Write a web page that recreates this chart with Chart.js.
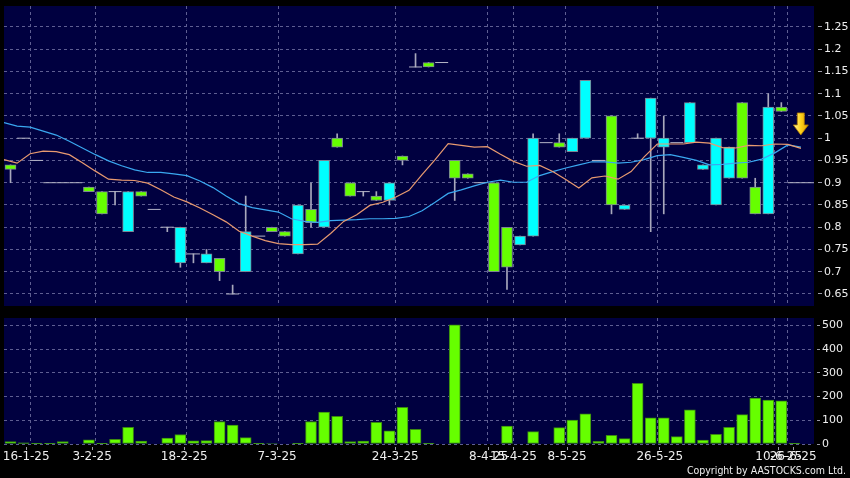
<!DOCTYPE html>
<html><head><meta charset="utf-8">
<script src="https://cdn.jsdelivr.net/npm/chart.js@4/dist/chart.umd.min.js"></script>
<style>
html,body{margin:0;padding:0;background:#000;}
#wrap{position:relative;width:850px;height:478px;background:#000;overflow:hidden;}
#c1{position:absolute;left:0;top:0;}
#c2{position:absolute;left:0;top:312px;}
#copy{position:absolute;right:4px;top:464px;font:10.5px 'DejaVu Sans Condensed','DejaVu Sans',sans-serif;color:#eeeeee;white-space:nowrap;}
</style></head><body>
<div id="wrap">
<canvas id="c1" width="850" height="312"></canvas>
<canvas id="c2" width="850" height="166"></canvas>
<div id="copy">Copyright by AASTOCKS.com Ltd.</div>
</div>
<script>
// ---- data (one candle per trading session shown) ----
const opens  = [0.94,1.00,0.95,0.90,0.90,0.90,0.89,0.88,0.88,0.79,0.88,0.84,0.80,0.72,0.74,0.72,0.73,0.65,0.70,0.78,0.80,0.79,0.74,0.84,0.80,1.00,0.90,0.88,0.87,0.86,0.96,1.16,1.17,1.17,0.95,0.92,0.90,0.90,0.80,0.76,0.78,0.99,0.99,0.97,1.00,0.95,1.05,0.84,1.00,1.00,0.98,0.99,0.99,0.93,0.85,0.91,1.08,0.89,0.83,1.07,0.90,0.90];
const highs  = [0.94,1.00,0.95,0.90,0.90,0.90,0.89,0.88,0.88,0.88,0.88,0.84,0.80,0.80,0.74,0.75,0.73,0.67,0.87,0.78,0.80,0.79,0.85,0.90,0.95,1.01,0.90,0.88,0.88,0.90,0.96,1.19,1.17,1.17,0.95,0.92,0.90,0.90,0.80,0.78,1.01,0.99,1.01,1.00,1.13,0.95,1.05,0.85,1.01,1.09,1.05,0.99,1.08,0.94,1.00,0.98,1.08,0.91,1.10,1.08,0.90,0.90];
const lows   = [0.90,1.00,0.95,0.90,0.90,0.90,0.88,0.83,0.85,0.79,0.87,0.84,0.79,0.71,0.72,0.72,0.68,0.65,0.70,0.78,0.79,0.78,0.74,0.80,0.80,0.98,0.87,0.87,0.86,0.85,0.94,1.16,1.16,1.17,0.86,0.91,0.90,0.70,0.66,0.76,0.78,0.99,0.98,0.97,1.00,0.95,0.83,0.84,1.00,0.79,0.83,0.99,0.99,0.93,0.85,0.91,0.91,0.83,0.83,1.06,0.90,0.90];
const closes = [0.93,1.00,0.95,0.90,0.90,0.90,0.88,0.83,0.88,0.88,0.87,0.84,0.80,0.80,0.74,0.74,0.70,0.65,0.79,0.78,0.79,0.78,0.85,0.81,0.95,0.98,0.87,0.88,0.86,0.90,0.95,1.16,1.16,1.17,0.91,0.91,0.90,0.70,0.71,0.78,1.00,0.99,0.98,1.00,1.13,0.95,0.85,0.85,1.00,1.09,1.00,0.99,1.08,0.94,1.00,0.98,0.91,0.83,1.07,1.06,0.90,0.90];
const volumes = [10,5,1,1,10,0,18,3,20,70,12,0,25,40,13,14,95,80,27,1,2,0,1,95,135,117,10,12,91,56,155,62,3,0,503,0,0,0,76,0,52,0,69,101,127,11,37,23,256,111,111,31,144,17,41,70,124,194,185,182,3,0];
// moving averages, one value per candle boundary
const maShort = [0.952,0.944,0.965,0.971,0.970,0.963,0.945,0.926,0.908,0.906,0.905,0.899,0.884,0.868,0.857,0.843,0.828,0.812,0.791,0.780,0.770,0.763,0.761,0.761,0.762,0.786,0.813,0.828,0.849,0.856,0.868,0.883,0.918,0.952,0.988,0.984,0.980,0.981,0.964,0.948,0.937,0.939,0.925,0.907,0.888,0.911,0.915,0.908,0.925,0.958,0.987,0.987,0.987,0.991,0.989,0.979,0.978,0.984,0.983,0.987,0.986,0.977];
const maLong  = [1.035,1.027,1.025,1.016,1.007,0.993,0.978,0.963,0.949,0.938,0.929,0.923,0.923,0.920,0.916,0.904,0.889,0.870,0.853,0.844,0.839,0.834,0.819,0.813,0.811,0.815,0.816,0.817,0.819,0.819,0.820,0.824,0.837,0.856,0.876,0.884,0.893,0.901,0.906,0.901,0.901,0.916,0.925,0.933,0.940,0.947,0.947,0.944,0.946,0.952,0.961,0.963,0.957,0.950,0.940,0.941,0.944,0.946,0.953,0.967,0.985,0.980];
const tickPos    = [1.2,6.25,13.3,20.4,29.45,36.6,38.5,42.6,49.7,58.8,59.9];
const tickLabels = ['16-1-25','3-2-25','18-2-25','7-3-25','24-3-25','8-4-25','15-4-25','8-5-25','26-5-25','10-6-25','26-6-25'];
const gridPos    = [1.5,6.5,13.5,20.5,29.5,36.5,38.5,42.5,49.5,58.5,59.5];
const priceTicks = [0.65,0.7,0.75,0.8,0.85,0.9,0.95,1.0,1.05,1.1,1.15,1.2,1.25];
const volTicks   = [0,100,200,300,400,500];
const arrowAt = {x:60.49, y:1.032};

// ---- styles ----
const UP = '#00ffff', DOWN = '#66ff00';
const NAVY = '#000040', GRID = '#5e5e92', TXT = '#eeeeee', TICKC = '#9a9aa8';
const FONT = "'DejaVu Sans', sans-serif";

const bodyData = [], bodyColors = [], flatData = [], wickData = [];
opens.forEach((o, i) => {
  const c = closes[i];
  if (o === c) flatData.push({x:i, y:o});
  else { bodyData.push({x:i, y:[Math.min(o,c), Math.max(o,c)]}); bodyColors.push(c > o ? UP : DOWN); }
  if (highs[i] > lows[i]) wickData.push({x:i, y:[lows[i], highs[i]]});
});
const volData = volumes.map((v,i) => ({x:i, y:v}));
const maShortPts = maShort.map((v,k) => ({x:k-0.5, y:v}));
const maLongPts  = maLong.map((v,k) => ({x:k-0.5, y:v}));

const fixedTicks = vals => axis => { axis.ticks = vals.map(v => ({value:v})); };
const noPad = (w, h) => a => {
  if (w !== undefined) a.width = w;
  if (h !== undefined) a.height = h;
  a.paddingTop = 0; a.paddingBottom = 0; a.paddingLeft = 0; a.paddingRight = 0;
};
const bgPlugin = { id:'bg', beforeDraw(chart){ const {ctx, chartArea:a} = chart; ctx.save(); ctx.fillStyle = NAVY; ctx.fillRect(a.left, a.top, a.right-a.left, a.bottom-a.top); ctx.restore(); } };
const arrowPlugin = { id:'arrow', afterDatasetsDraw(chart){
  const {ctx, scales} = chart;
  const cx = scales.x.getPixelForValue(arrowAt.x), cy = scales.y.getPixelForValue(arrowAt.y);
  ctx.save();
  const g = ctx.createLinearGradient(cx-7, 0, cx+7, 0);
  g.addColorStop(0,'#fff39a'); g.addColorStop(0.5,'#ffd21a'); g.addColorStop(1,'#e0a000');
  ctx.beginPath();
  ctx.moveTo(cx-3.5, cy-11); ctx.lineTo(cx+3.5, cy-11); ctx.lineTo(cx+3.5, cy+1);
  ctx.lineTo(cx+7.5, cy+1); ctx.lineTo(cx, cy+11); ctx.lineTo(cx-7.5, cy+1); ctx.lineTo(cx-3.5, cy+1);
  ctx.closePath(); ctx.fillStyle = g; ctx.fill();
  ctx.strokeStyle = '#b07800'; ctx.lineWidth = 0.8; ctx.stroke();
  ctx.restore();
}};

const xBase = {type:'linear', min:-0.5, max:61.5, offset:false};

new Chart(document.getElementById('c1'), {
  type:'bar',
  data:{datasets:[
    {type:'line', data:maShortPts, borderColor:'#e89a70', borderWidth:1.2, pointRadius:0, order:0},
    {type:'line', data:maLongPts, borderColor:'#3aa8f0', borderWidth:1.2, pointRadius:0, order:0},
    {type:'bar', data:bodyData, backgroundColor:bodyColors, borderColor:'#7c8494', borderWidth:1, borderSkipped:false, barThickness:11, grouped:false, order:1},
    {type:'line', data:flatData, showLine:false, pointStyle:'line', pointRadius:6.5, pointBorderColor:'#b4b4c6', pointBorderWidth:1, order:2},
    {type:'bar', data:wickData, backgroundColor:'#a8a8bc', borderWidth:0, barThickness:1, grouped:false, order:3}
  ]},
  options:{
    responsive:false, animation:false, devicePixelRatio:1,
    layout:{autoPadding:false, padding:{left:4, top:6, right:0, bottom:6}},
    plugins:{legend:{display:false}, tooltip:{enabled:false}},
    scales:{
      x:{...xBase, afterBuildTicks:fixedTicks(gridPos), ticks:{display:false}, grid:{color:GRID, drawTicks:false, offset:false}, border:{display:false, dash:[3,3]}, afterFit:noPad(undefined, 0)},
      y:{position:'right', min:0.623, max:1.297, afterBuildTicks:fixedTicks(priceTicks),
         ticks:{color:TXT, font:{family:FONT, size:11}, padding:2, callback:v=>String(+Number(v).toFixed(2))},
         grid:{color:GRID, tickLength:8, tickColor:TICKC, tickBorderDash:[0,4,4,0]}, border:{display:false, dash:[3,3]}, afterFit:noPad(36)}
    }
  },
  plugins:[bgPlugin, arrowPlugin]
});

new Chart(document.getElementById('c2'), {
  type:'bar',
  data:{datasets:[
    {type:'bar', data:volData, backgroundColor:DOWN, borderColor:'#3b8a10', borderWidth:1, borderSkipped:false, barThickness:11, grouped:false, xAxisID:'x'}
  ]},
  options:{
    responsive:false, animation:false, devicePixelRatio:1,
    layout:{autoPadding:false, padding:{left:4, top:6, right:0, bottom:10}},
    plugins:{legend:{display:false}, tooltip:{enabled:false}},
    scales:{
      xg:{...xBase, position:'bottom', weight:0, afterBuildTicks:fixedTicks(gridPos), ticks:{display:false}, grid:{color:GRID, drawTicks:false, offset:false}, border:{display:false, dash:[3,3]}, afterFit:noPad(undefined, 0)},
      x:{...xBase, position:'bottom', weight:1, afterBuildTicks:fixedTicks(tickPos),
         ticks:{autoSkip:false, maxRotation:0, minRotation:0, color:TXT, font:{family:FONT, size:12}, padding:0, callback:(v,i)=>tickLabels[i]},
         grid:{drawOnChartArea:false, tickLength:6, tickColor:TICKC, tickBorderDash:[0,3,3,0], offset:false}, border:{display:false}, afterFit:noPad(undefined, 24)},
      y:{position:'right', min:0, max:532, afterBuildTicks:fixedTicks(volTicks),
         ticks:{color:TXT, font:{family:FONT, size:11}, padding:2},
         grid:{color:GRID, tickLength:6, tickColor:TICKC, tickBorderDash:[0,3,3,0]}, border:{display:false, dash:[3,3]}, afterFit:noPad(36)}
    }
  },
  plugins:[bgPlugin]
});
</script>
</body></html>
